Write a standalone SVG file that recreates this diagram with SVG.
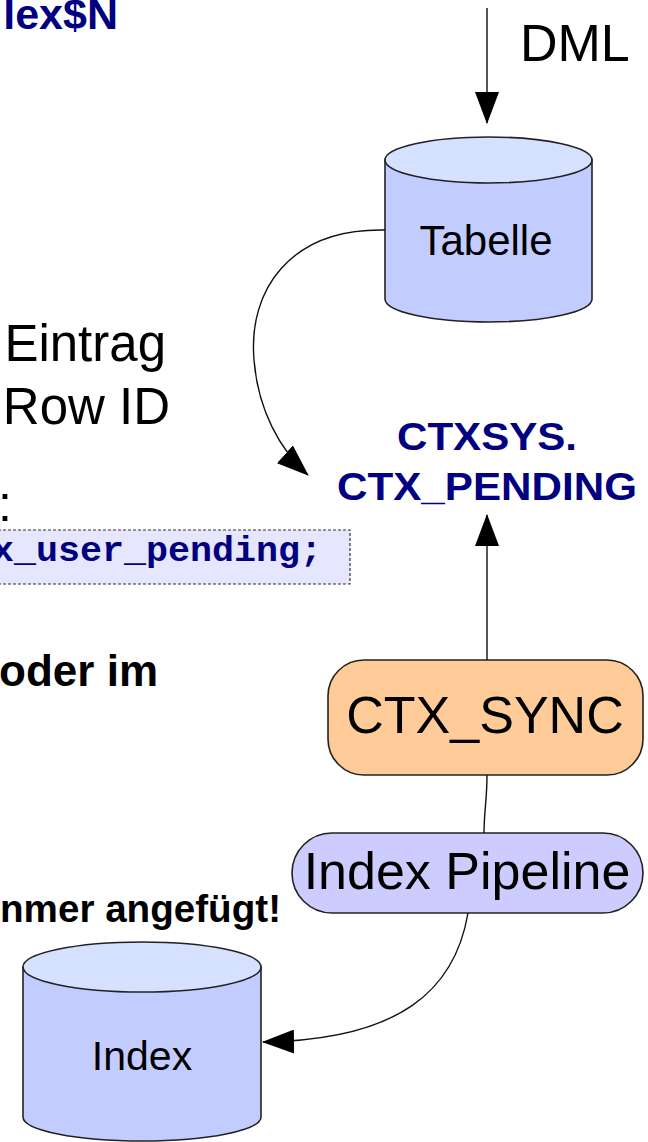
<svg xmlns="http://www.w3.org/2000/svg" width="648" height="1142" viewBox="0 0 648 1142">
<style>
.sans{font-family:"Liberation Sans",Arial,sans-serif}
.bold{font-weight:bold}
.navy{fill:#000080}
.blk{fill:#000}
.mono{font-family:"Liberation Mono","Courier New",monospace}
.cyl-body{fill:#C2CCFE;stroke:#222;stroke-width:1.6}
.cyl-top{fill:#D6E0FF;stroke:#222;stroke-width:1.6}
.conn{fill:none;stroke:#111;stroke-width:1.4}
</style>
<defs>
<marker id="arr" markerUnits="userSpaceOnUse" markerWidth="32" markerHeight="24" refX="31" refY="12" orient="auto">
<path d="M0,0 L32,12 L0,24 z" fill="#000"/>
</marker>
</defs>

<g id="text-left">
<text class="sans bold navy" x="118" y="29" font-size="43" text-anchor="end">lex$N</text>
<text class="sans blk" x="166" y="361" font-size="51" text-anchor="end">Eintrag</text>
<text class="sans blk" x="170" y="424" font-size="51" text-anchor="end">Row ID</text>
<text class="sans blk" x="-2" y="521" font-size="50">:</text>
<text class="sans bold blk" x="158" y="686" font-size="44" text-anchor="end">oder im</text>
<text class="sans bold blk" x="0" y="922" font-size="38" textLength="281" lengthAdjust="spacingAndGlyphs">nmer angefügt!</text>
</g>

<g id="code-box">
<rect x="-2" y="530" width="352" height="54" fill="#E6E6FF" stroke="#333" stroke-width="1.2" stroke-dasharray="3,2"/>
<text class="mono bold navy" x="-8" y="561" font-size="35" textLength="330" lengthAdjust="spacingAndGlyphs">x_user_pending;</text>
</g>

<g id="dml-label">
<text class="sans blk" x="520" y="61" font-size="52">DML</text>
</g>

<g id="tabelle">
<path class="cyl-body" d="M385,160 L385,299 A103.5,23 0 0 0 592,299 L592,160 Z"/>
<ellipse class="cyl-top" cx="488.5" cy="160" rx="103.5" ry="23"/>
<text class="sans blk" x="486" y="255" font-size="42" text-anchor="middle">Tabelle</text>
</g>

<g id="ctx-pending">
<text class="sans bold navy" x="487" y="450" font-size="39" text-anchor="middle" textLength="180" lengthAdjust="spacingAndGlyphs">CTXSYS.</text>
<text class="sans bold navy" x="487" y="500" font-size="39" text-anchor="middle" textLength="300" lengthAdjust="spacingAndGlyphs">CTX_PENDING</text>
</g>

<g id="ctx-sync">
<rect x="328" y="660" width="315" height="115" rx="36" ry="36" fill="#FFCC99" stroke="#222" stroke-width="1.6"/>
<text class="sans blk" x="485" y="733" font-size="52" text-anchor="middle">CTX_SYNC</text>
</g>

<g id="index-pipeline">
<rect x="292" y="833" width="351" height="80" rx="40" ry="40" fill="#CCCCFF" stroke="#222" stroke-width="1.6"/>
<text class="sans blk" x="467" y="889" font-size="52" text-anchor="middle">Index Pipeline</text>
</g>

<g id="index">
<path class="cyl-body" d="M23,967 L23,1117 A119,24 0 0 0 261,1117 L261,967 Z"/>
<ellipse class="cyl-top" cx="142" cy="967" rx="119" ry="25"/>
<text class="sans blk" x="142" y="1070" font-size="41" text-anchor="middle">Index</text>
</g>

<g id="connectors">
<path class="conn" d="M487,8 L487,123" marker-end="url(#arr)"/>
<path class="conn" d="M385,230 C290,228 248,290 254,360 C258,410 280,450 308,475" marker-end="url(#arr)"/>
<path class="conn" d="M487,660 L487,515" marker-end="url(#arr)"/>
<path class="conn" d="M487,775 C487,800 484,812 484,833"/>
<path class="conn" d="M468,913 C455,990 400,1040 263,1042" marker-end="url(#arr)"/>
</g>
</svg>
